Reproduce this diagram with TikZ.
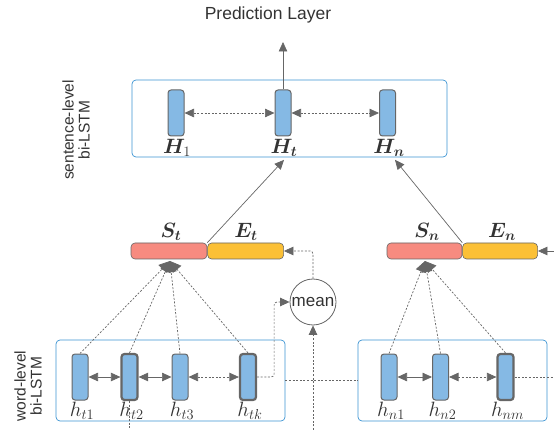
\documentclass[tikz,border=0pt]{standalone}
\usepackage{bm}
\usepackage{fontspec}
\setmainfont{Liberation Sans}
\usetikzlibrary{arrows.meta}
\definecolor{cellblue}{HTML}{85B9E4}
\definecolor{boxblue}{HTML}{3C94D2}
\definecolor{salmon}{HTML}{F78B80}
\definecolor{amber}{HTML}{FBC036}
\definecolor{edgegray}{HTML}{666666}
\definecolor{ink}{HTML}{333333}
\tikzset{
  cell/.style={draw=edgegray, fill=cellblue, rounded corners=3pt, minimum width=16pt, minimum height=46pt, inner sep=0pt, line width=1pt},
  thickcell/.style={cell, line width=2.2pt},
  layer/.style={draw=boxblue, rounded corners=4pt, line width=0.7pt, inner sep=0pt},
  bar/.style={draw=edgegray, rounded corners=4pt, minimum width=76pt, minimum height=16pt, inner sep=0pt, line width=0.6pt},
  lbl/.style={font=\fontsize{20}{22}\selectfont, text=ink, inner sep=1pt},
  sublbl/.style={font=\fontsize{20}{22}\selectfont, text=ink, inner sep=1pt},
  side/.style={rotate=90, align=center, text=ink, font=\fontsize{15.5}{16}\selectfont},
  link/.style={draw=edgegray, line width=0.7pt},
  dots/.style={link, dash pattern=on 2pt off 1.6pt},
  tip/.style={-{Triangle[length=9.5pt,width=8.5pt]}, edgegray},
  fantip/.style={-{Triangle[length=11pt,width=11pt]}, edgegray},
  tips/.style={{Triangle[length=9.5pt,width=8.5pt]}-{Triangle[length=9.5pt,width=8.5pt]}, edgegray}
}
\begin{document}
\begin{tikzpicture}[x=1pt,y=-1pt]
\useasboundingbox (0,0) rectangle (554,430);
% titles
\node[text=ink, font=\fontsize{17.5}{19}\selectfont] (pred) at (268,15) {Prediction Layer};
\coordinate (predin) at (283,42);
\node[side] (sentlbl) at (76,130) {sentence-level\\bi-LSTM};
\node[side] (wordlbl) at (28,386) {word-level\\bi-LSTM};
% sentence-level bi-LSTM
\node[layer, minimum width=315pt, minimum height=77pt] (sent) at (289.5,118.5) {};
\node[cell] (H1) at (176,113) {};
\node[cell] (Ht) at (283,113) {};
\node[cell] (Hn) at (387.5,113) {};
\node[lbl] (H1l) at (177,148) {$\bm{H}_1$};
\node[lbl] (Htl) at (284,148) {$\bm{H}_{\bm{t}}$};
\node[lbl] (Hnl) at (389,148) {$\bm{H}_{\bm{n}}$};
\draw[link, tip] (Ht.north) -- (predin);
\draw[dots, tips] (H1.east) -- (Ht.west);
\draw[dots, tips] (Ht.east) -- (Hn.west);
% sentence vectors
\node[bar, fill=salmon] (St) at (169,251) {};
\node[bar, fill=amber, anchor=west] (Et) at (St.east) {};
\node[bar, fill=salmon, minimum width=75pt] (Sn) at (424.5,251) {};
\node[bar, fill=amber, minimum width=75pt, anchor=west] (En) at (Sn.east) {};
\node[lbl] (Stl) at (171,232) {$\bm{S}_{\bm{t}}$};
\node[lbl] (Etl) at (246,232) {$\bm{E}_{\bm{t}}$};
\node[lbl] (Snl) at (427,232) {$\bm{S}_{\bm{n}}$};
\node[lbl] (Enl) at (502,232) {$\bm{E}_{\bm{n}}$};
\draw[link, tip] (St.north east) -- ([yshift=-2pt]Htl.south);
\draw[link, tip] (Sn.north east) -- ([xshift=6pt,yshift=-2pt]Hnl.south);
\coordinate (rightin) at (554,251);
\draw[link, tip] (rightin) -- (En.east);
% mean
\node[circle, draw=edgegray, line width=0.8pt, minimum size=46pt, inner sep=0pt, text=ink, font=\fontsize{17}{18}\selectfont] (mean) at (313,302) {mean};
\coordinate (meanin) at (313,430);
\draw[dots, tip] (meanin) -- (mean.south);
\draw[dots, tip, rounded corners=3pt] (mean.north) |- (Et.east);
% word-level bi-LSTM
\node[layer, minimum width=229pt, minimum height=81pt] (wordL) at (170.5,380.5) {};
\node[layer, minimum width=189pt, minimum height=81pt] (wordR) at (452.5,380.5) {};
\node[cell] (ht1) at (80,377) {};
\node[thickcell] (ht2) at (129.5,377) {};
\node[cell] (ht3) at (180,377) {};
\node[thickcell] (htk) at (248,377) {};
\node[cell] (hn1) at (389,377) {};
\node[cell] (hn2) at (440.5,377) {};
\node[thickcell] (hnm) at (505.5,377) {};
\node[sublbl] (ht1l) at (82,411) {$h_{t1}$};
\node[sublbl] (ht2l) at (131.5,411) {$h_{t2}$};
\node[sublbl] (ht3l) at (182,411) {$h_{t3}$};
\node[sublbl] (htkl) at (250,411) {$h_{tk}$};
\node[sublbl] (hn1l) at (391,411) {$h_{n1}$};
\node[sublbl] (hn2l) at (442.5,411) {$h_{n2}$};
\node[sublbl] (hnml) at (507.5,411) {$h_{nm}$};
\draw[link, tips] (ht1.east) -- (ht2.west);
\draw[link, tips] (ht2.east) -- (ht3.west);
\draw[dots, tips] (ht3.east) -- (htk.west);
\draw[link, tips] (hn1.east) -- (hn2.west);
\draw[dots, tips] (hn2.east) -- (hnm.west);
\coordinate (rightout) at (554,377);
\draw[dots] (hnm.east) -- (rightout);
\coordinate (ht2out) at (129.5,430);
\draw[dots] (ht2.south) -- (ht2out);
\draw[dots] (wordL.east) -- (wordR.west);
\draw[dots, tip, rounded corners=3pt] (htk.east) -- ++(17,0) |- (mean.west);
% word vectors into sentence vectors
\coordinate (fant) at (170,261);
\coordinate (fann) at (425,261);
\foreach \h in {ht1,ht2,ht3,htk} \draw[dots, fantip] (\h.north) -- (fant);
\foreach \h in {hn1,hn2,hnm} \draw[dots, fantip] (\h.north) -- (fann);
\end{tikzpicture}
\end{document}
